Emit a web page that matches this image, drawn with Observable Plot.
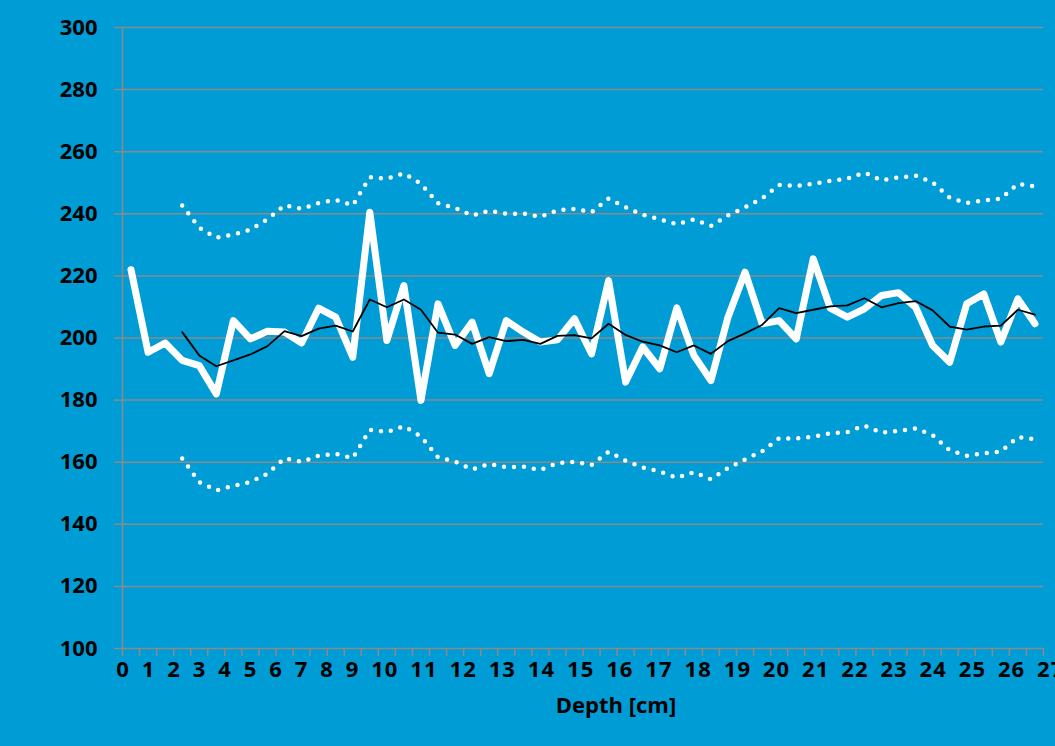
<!DOCTYPE html>
<html><head><meta charset="utf-8">
<script src="https://cdn.jsdelivr.net/npm/d3@7"></script>
<script src="https://cdn.jsdelivr.net/npm/@observablehq/plot@0.6"></script>
<style>
html,body{margin:0;padding:0;background:#009CD6;overflow:hidden;}
</style></head><body>
<div id="chart"></div>
<script>
const depth = [0.25,0.75,1.25,1.75,2.25,2.75,3.25,3.75,4.25,4.75,5.25,5.75,6.25,6.75,7.25,7.75,8.25,8.75,9.25,9.75,
  10.25,10.75,11.25,11.75,12.25,12.75,13.25,13.75,14.25,14.75,15.25,15.75,16.25,16.75,17.25,17.75,18.25,18.75,19.25,19.75,
  20.25,20.75,21.25,21.75,22.25,22.75,23.25,23.75,24.25,24.75,25.25,25.75,26.25,26.75];
const profile = [222.0,195.4,198.4,192.8,191.1,182.0,205.6,199.7,202.2,201.9,198.4,209.6,206.7,193.8,240.5,199.2,216.9,179.9,211.0,197.6,
  205.1,188.5,205.6,201.9,198.7,199.4,206.2,194.9,218.5,185.8,197.1,190.1,209.7,194.4,186.3,206.7,221.2,204.6,205.6,199.7,
  225.5,209.6,206.7,209.4,213.7,214.6,209.9,197.6,192.2,211.0,214.2,198.7,212.6,204.6];
const movingAvg = [201.9,194.4,190.9,192.8,194.7,197.4,202.2,200.6,203.0,204.0,202.1,212.4,209.9,212.4,209.1,201.7,201.1,198.1,200.3,199.0,
  199.4,198.1,200.7,200.9,199.9,204.6,201.0,198.8,197.6,195.4,197.6,194.9,199.0,201.5,204.2,209.6,208.0,209.1,210.2,210.5,
  212.8,209.9,211.2,211.9,208.9,203.7,202.7,203.7,204.0,209.1,207.5];
const upperBand = [242.7,235.5,232.3,233.3,234.9,238.2,242.8,241.6,243.5,244.5,242.7,251.8,251.3,253.0,249.7,243.4,241.9,239.4,241.0,240.0,
  240.1,239.0,241.1,241.6,240.5,244.9,242.1,239.7,238.2,236.6,238.2,236.1,239.5,242.1,245.0,249.3,249.0,249.7,250.6,251.3,
  253.3,250.8,251.7,252.3,250.1,245.2,243.5,244.3,244.9,249.7,248.8];
const lowerBand = [161.2,153.6,150.9,152.4,153.6,156.3,161.3,160.1,162.1,162.7,161.3,170.4,169.7,171.6,168.3,161.6,160.2,157.7,159.4,158.4,
  158.6,157.5,159.7,160.1,159.1,163.4,160.5,158.3,157.0,155.0,156.8,154.5,158.1,160.9,163.5,167.7,167.6,168.2,169.3,169.7,
  171.8,169.5,170.1,170.9,168.7,163.8,162.1,162.9,163.4,168.1,167.4];
const yTicks = [100,120,140,160,180,200,220,240,260,280,300];
const xLabels = ["0","1","2","3","4","5","6","7","8","9","10","11","12","13","14","15","16","17","18","19","20","21","22","23","24","25","26","27"];
const xTitle = "Depth [cm]";

const bandDepth = depth.slice(depth.length - movingAvg.length);
const obsRows = depth.map((d, i) => ({depth: d, value: profile[i]}));
const maRows = bandDepth.map((d, i) => ({depth: d, value: movingAvg[i]}));
const upRows = bandDepth.map((d, i) => ({depth: d, value: upperBand[i]}));
const loRows = bandDepth.map((d, i) => ({depth: d, value: lowerBand[i]}));
const xTickVals = d3.range(0, 27.001, 0.5);
const labelString = xLabels.join(" ");

const grid = "#8a8a8a";
const dotted = {x: "depth", y: "value", stroke: "white", strokeWidth: 4.5, strokeLinecap: "round", strokeLinejoin: "round", strokeDasharray: "0 10"};

const plot = Plot.plot({
  width: 1055, height: 746,
  marginTop: 27, marginBottom: 98, marginLeft: 122, marginRight: 12,
  style: {background: "#009CD6", fontFamily: "'Open Sans', sans-serif", fontWeight: 700, fontSize: "22px", color: "black"},
  x: {domain: [0, 27]},
  y: {domain: [100, 300]},
  marks: [
    Plot.gridY(yTicks, {stroke: grid, strokeOpacity: 1, strokeWidth: 1.5}),
    Plot.axisY(yTicks, {tickSize: 8, tickPadding: 17, stroke: grid, strokeWidth: 1.5, label: null, fill: "black"}),
    Plot.axisX(xTickVals, {tickSize: 8, tickFormat: () => "", stroke: grid, strokeWidth: 1.5, label: null}),
    Plot.ruleX([0], {stroke: grid, strokeWidth: 1.5}),
    Plot.line(upRows, dotted),
    Plot.line(loRows, dotted),
    Plot.line(obsRows, {x: "depth", y: "value", stroke: "white", strokeWidth: 7, strokeLinejoin: "round", strokeLinecap: "round"}),
    Plot.line(maRows, {x: "depth", y: "value", stroke: "black", strokeWidth: 1.8, strokeLinejoin: "round"}),
    Plot.text([labelString], {frameAnchor: "bottom-left", textAnchor: "start", dx: -6.3, dy: 28, fill: "black"}),
    Plot.text([xTitle], {frameAnchor: "bottom", dx: 33, dy: 64, fill: "black"})
  ]
});
d3.select(plot).selectAll("text")
  .filter(function () { return this.textContent === labelString; })
  .style("letter-spacing", "1.1px").style("word-spacing", "5px");
document.getElementById("chart").appendChild(plot);
</script>
</body></html>
